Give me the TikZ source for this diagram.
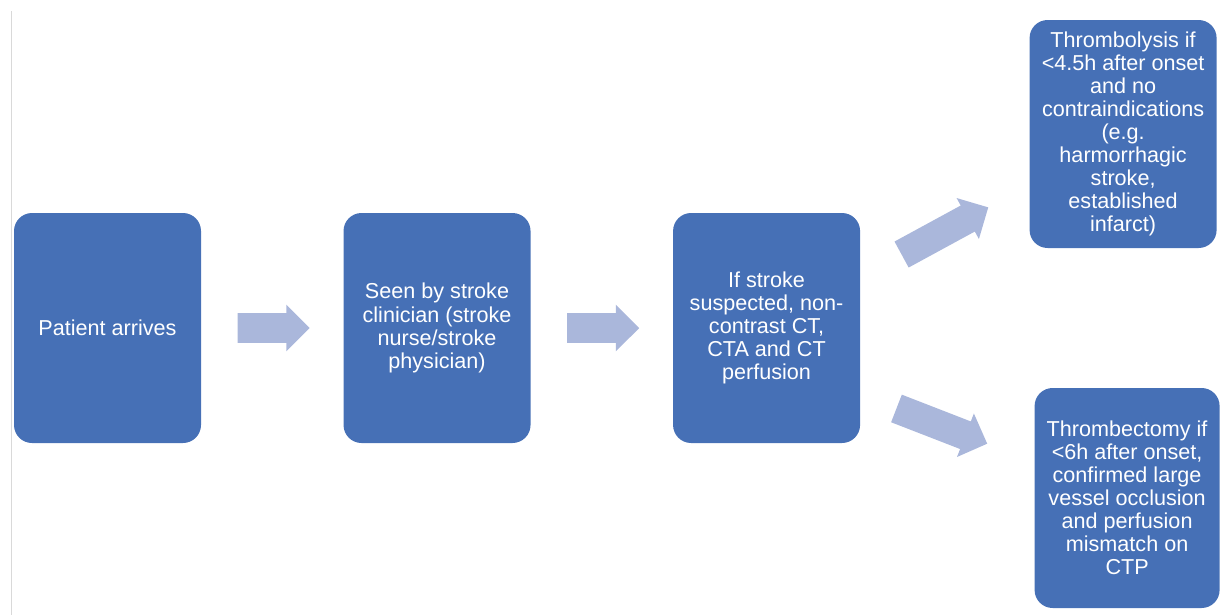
\documentclass[tikz,border=0pt]{standalone}
\usepackage{fontspec}
\setmainfont{Liberation Sans}
\usetikzlibrary{positioning}
\usetikzlibrary{shapes.arrows}
\definecolor{stageblue}{HTML}{4670B6}
\definecolor{flowblue}{HTML}{AAB7DB}
\definecolor{rulegray}{HTML}{D9D9D9}

\begin{document}
\begin{tikzpicture}[x=0.75pt, y=-0.75pt,
stage/.style={fill=stageblue, rounded corners=13.5pt, text=white, align=center, minimum width=140.25pt, minimum height=172.5pt, inner sep=2pt, font=\fontsize{16.2}{17.3}\selectfont},
    flow/.style={single arrow, fill=flowblue, minimum height=54pt, minimum width=34.5pt, single arrow head extend=6.4pt, inner xsep=0pt, inner ysep=10.9pt}]
\useasboundingbox (0,0) rectangle (1221,615);
\draw[rulegray, line width=0.75pt] (11,11) -- (11,615);

\node[stage] (arrives) at (107.5,328) {Patient arrives};
\node[stage] (clinician) [right=106.5pt of arrives] {Seen by stroke\\clinician (stroke\\nurse/stroke\\physician)};
\node[stage] (imaging) [right=106.5pt of clinician] {If stroke\\suspected, non-\\contrast CT,\\CTA and CT\\perfusion};
\node[stage, minimum height=171pt] (lysis) [right=126.75pt of imaging, yshift=145.5pt] {Thrombolysis if\\<4.5h after onset\\and no\\contraindications\\(e.g.\\harmorrhagic\\stroke,\\established\\infarct)};
\node[stage, minimum width=138.75pt, minimum height=165pt] (ectomy) [right=130.5pt of imaging, yshift=-127.5pt] {Thrombectomy if\\<6h after onset,\\confirmed large\\vessel occlusion\\and perfusion\\mismatch on\\CTP};

\path (arrives) -- (clinician) node[flow, pos=0.458, sloped] (toclinician) {};
\path (clinician) -- (imaging) node[flow, pos=0.458, sloped] (toimaging) {};
\path (imaging.center) -- (lysis.center) node[flow, minimum height=74pt, pos=0.482, sloped] (tolysis) {};
\path ([yshift=-22.5pt]imaging.center) -- (ectomy.center) node[flow, minimum height=73pt, pos=0.467, sloped] (toectomy) {};
\end{tikzpicture}
\end{document}
